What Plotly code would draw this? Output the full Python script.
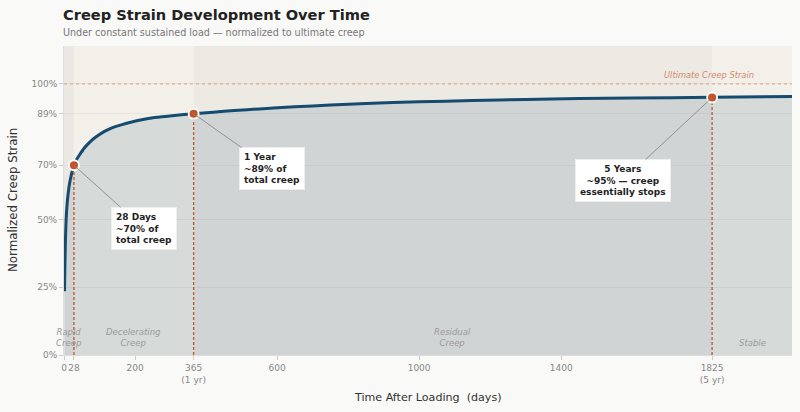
import plotly.graph_objects as go

# ---- data ----
days = [1.4, 2, 3, 4, 5, 6, 8, 10.8, 13, 15.5, 19, 22, 28, 35, 43.6, 55, 67, 78,
        90.6, 114, 135, 161, 185, 208, 255, 311, 365, 420, 480, 550, 650, 750, 850,
        1000, 1150, 1300, 1450, 1600, 1825, 2050]
strain = [0.235, 0.29, 0.36, 0.42, 0.465, 0.50, 0.545, 0.585, 0.61, 0.632, 0.655, 0.672,
          0.70, 0.72, 0.738, 0.76, 0.778, 0.792, 0.805, 0.825, 0.838, 0.849, 0.858,
          0.865, 0.876, 0.884, 0.89, 0.896, 0.902, 0.908, 0.916, 0.922, 0.928,
          0.934, 0.939, 0.943, 0.946, 0.948, 0.951, 0.954]

milestone_days = [28, 365, 1825]
milestone_vals = [0.70, 0.89, 0.95]
milestone_text = ["28 Days<br>~70% of<br>total creep",
                  "1 Year<br>~89% of<br>total creep",
                  "5 Years<br>~95% — creep<br>essentially stops"]

phase_edges = [0, 28, 365, 1825, 2050]
phase_names = ["Rapid<br>Creep", "Decelerating<br>Creep", "Residual<br>Creep", "Stable"]
phase_colors = ["#ebe8e3", "#f3f0ea", "#edeae4", "#f3f0ea"]

x_ticks = [0, 28, 200, 365, 600, 1000, 1400, 1825]
x_ticktext = ["0", "28", "200", "365<br>(1 yr)", "600", "1000", "1400", "1825<br>(5 yr)"]
y_ticks = [0, 0.25, 0.50, 0.70, 0.89, 1.00]
y_ticktext = ["0%", "25%", "50%", "70%", "89%", "100%"]

FONT = "DejaVu Sans"
ORANGE = "#c4552b"
BLUE = "#164b70"

W, H = 800, 412
ML, MR, MT, MB = 64, 8, 46, 57
pw, ph = W - ML - MR, H - MT - MB

fig = go.Figure()

fig.add_trace(go.Scatter(
    x=days, y=strain, mode="lines",
    line=dict(color=BLUE, width=3, shape="spline", smoothing=0.6),
    fill="tozeroy", fillcolor="rgba(20,70,110,0.13)", hoverinfo="skip", showlegend=False))

for d, v in zip(milestone_days, milestone_vals):
    fig.add_trace(go.Scatter(
        x=[d, d], y=[0, v], mode="lines",
        line=dict(color=ORANGE, width=1.3, dash="3px,2px"),
        hoverinfo="skip", showlegend=False))

fig.add_trace(go.Scatter(
    x=milestone_days, y=milestone_vals, mode="markers",
    marker=dict(color=ORANGE, size=10, line=dict(color="white", width=1.8)),
    hoverinfo="skip", showlegend=False))

shapes = []
for i in range(len(phase_names)):
    shapes.append(dict(type="rect", xref="x", yref="paper",
                       x0=phase_edges[i], x1=phase_edges[i + 1], y0=0, y1=1,
                       fillcolor=phase_colors[i], line=dict(width=0), layer="below"))
shapes.append(dict(type="line", xref="paper", yref="y", x0=0, x1=1, y0=1.0, y1=1.0,
                   line=dict(color="#e3a994", width=1.2, dash="dot"), layer="above"))

annotations = []
offsets = [(70, 63, "left"), (78, 55, "left"), (-89, 83, "center")]
for (d, v, t), (ax, ay, al) in zip(zip(milestone_days, milestone_vals, milestone_text), offsets):
    annotations.append(dict(
        x=d, y=v, xref="x", yref="y", text="<b>" + t + "</b>", showarrow=True, arrowhead=0,
        arrowwidth=0.8, arrowcolor="#808080", ax=ax, ay=ay, align=al,
        font=dict(family=FONT, size=9, color="#222222"),
        bgcolor="white", bordercolor="#eeeeee", borderwidth=1, borderpad=4))

for i, name in enumerate(phase_names):
    annotations.append(dict(
        x=(phase_edges[i] + phase_edges[i + 1]) / 2, y=0.02, xref="x", yref="y",
        text="<i>" + name + "</i>", showarrow=False, yanchor="bottom",
        font=dict(family=FONT, size=8.5, color="#9a9a9a"), align="center"))

annotations.append(dict(
    x=1950, y=1.0, xref="x", yref="y", text="<i>Ultimate Creep Strain</i>",
    showarrow=False, xanchor="right", yanchor="bottom", yshift=2,
    font=dict(family=FONT, size=8.3, color="#d4896a")))

# titles placed at pixel positions converted to paper coordinates
annotations.append(dict(
    x=(61 - ML) / pw, y=(H - MB - 15) / ph, xref="paper", yref="paper",
    text="<b>Creep Strain Development Over Time</b>",
    showarrow=False, xanchor="left", yanchor="middle",
    font=dict(family=FONT, size=14.6, color="#222222")))
annotations.append(dict(
    x=(61 - ML) / pw, y=(H - MB - 33) / ph, xref="paper", yref="paper",
    text="Under constant sustained load — normalized to ultimate creep",
    showarrow=False, xanchor="left", yanchor="middle",
    font=dict(family=FONT, size=9.6, color="#777777")))
annotations.append(dict(
    x=(428 - ML) / pw, y=(H - MB - 397) / ph, xref="paper", yref="paper",
    text="Time After Loading  (days)",
    showarrow=False, xanchor="center", yanchor="middle",
    font=dict(family=FONT, size=11.1, color="#333333")))
annotations.append(dict(
    x=(13 - ML) / pw, y=(H - MB - 200) / ph, xref="paper", yref="paper",
    text="Normalized Creep Strain", textangle=-90,
    showarrow=False, xanchor="center", yanchor="middle",
    font=dict(family=FONT, size=11.8, color="#333333")))

fig.update_layout(
    width=W, height=H,
    margin=dict(l=ML, r=MR, t=MT, b=MB),
    paper_bgcolor="#f9f9f7", plot_bgcolor="#f9f9f7",
    font=dict(family=FONT, size=9, color="#888888"),
    shapes=shapes, annotations=annotations, showlegend=False,
    xaxis=dict(range=[0, 2050], tickvals=x_ticks, ticktext=x_ticktext, tickangle=0,
               automargin=False, showgrid=False, zeroline=False, ticks="outside",
               ticklen=4, tickcolor="#cccccc", showline=True, linecolor="#dddddd",
               tickfont=dict(family=FONT, size=9, color="#888888")),
    yaxis=dict(range=[0, 1.14], tickvals=y_ticks, ticktext=y_ticktext,
               automargin=False, showgrid=True, gridcolor="rgba(0,0,0,0.045)",
               zeroline=False, ticks="outside", ticklen=4, tickcolor="#cccccc",
               showline=True, linecolor="#dddddd",
               tickfont=dict(family=FONT, size=9, color="#888888")),
)

fig.write_html(
    "out.html",
    config={"displayModeBar": False},
    post_script="document.body.style.margin='0';document.body.style.overflow='hidden';",
)
